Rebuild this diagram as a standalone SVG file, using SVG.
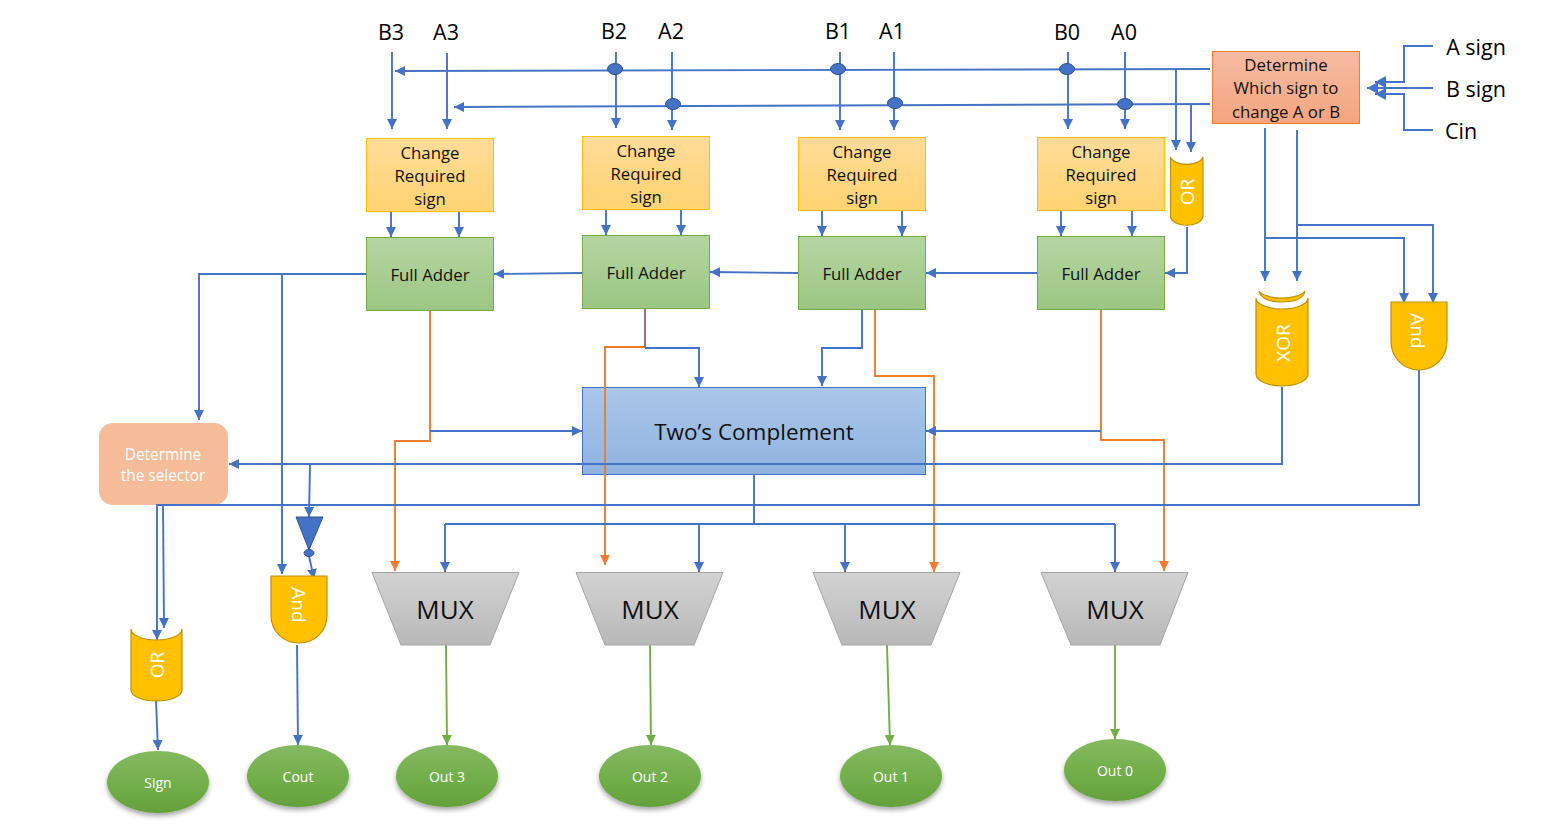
<svg xmlns="http://www.w3.org/2000/svg" width="1542" height="838" viewBox="0 0 1542 838">
<style>
text{font-family:"Open Sans","Noto Sans","Liberation Sans",sans-serif;text-anchor:middle}
.lbl{font-size:21.5px;fill:#000}
.t{font-size:16.8px;fill:#111}
.w{font-size:19px;fill:#fff}
.s{font-size:15.4px;fill:#fff}
.g{font-size:14px;fill:#fff}
.m{font-size:26px;fill:#111}
.c{fill:none;stroke:#4472c4;stroke-width:1.9}
.a{marker-end:url(#ab)}
.al{marker-end:url(#abl)}
.o{fill:none;stroke:#ed7d31;stroke-width:1.9}
.oa{marker-end:url(#ao)}
.gl{fill:none;stroke:#70ad47;stroke-width:1.9;marker-end:url(#ag)}
.chg{fill:url(#gy);stroke:#ffc000;stroke-width:1}
.fa{fill:url(#gg);stroke:#70ad47;stroke-width:1}
.mux{fill:url(#gm);stroke:#a5a5a5;stroke-width:1}
.gate{fill:#ffc000;stroke:#bf9000;stroke-width:1.2}
.ov{fill:url(#go);filter:url(#sh)}
.dot{fill:#4472c4;stroke:#2f528f;stroke-width:1}
</style>
<defs>
<linearGradient id="gy" x1="0" y1="0" x2="0" y2="1"><stop offset="0" stop-color="#ffdc9a"/><stop offset="1" stop-color="#ffd371"/></linearGradient>
<linearGradient id="gg" x1="0" y1="0" x2="0" y2="1"><stop offset="0" stop-color="#b5d5a2"/><stop offset="1" stop-color="#9cc683"/></linearGradient>
<linearGradient id="gm" x1="0" y1="0" x2="0" y2="1"><stop offset="0" stop-color="#d2d2d2"/><stop offset="1" stop-color="#b8b8b8"/></linearGradient>
<linearGradient id="go" x1="0" y1="0" x2="0" y2="1"><stop offset="0" stop-color="#85b961"/><stop offset="0.6" stop-color="#70ad47"/><stop offset="1" stop-color="#64a03c"/></linearGradient>
<linearGradient id="gs" x1="0" y1="0" x2="0" y2="1"><stop offset="0" stop-color="#f6bba3"/><stop offset="1" stop-color="#f4a47f"/></linearGradient>
<linearGradient id="gb" x1="0" y1="0" x2="0" y2="1"><stop offset="0" stop-color="#abc6e8"/><stop offset="1" stop-color="#8fb3e0"/></linearGradient>
<filter id="sh" x="-20%" y="-20%" width="140%" height="150%"><feDropShadow dx="0" dy="3" stdDeviation="2.5" flood-color="#000" flood-opacity="0.35"/></filter>
<marker id="ab" markerUnits="userSpaceOnUse" markerWidth="12" markerHeight="12" refX="10" refY="5" orient="auto"><path d="M0 0L10 5L0 10Z" fill="#4472c4"/></marker>
<marker id="abl" markerUnits="userSpaceOnUse" markerWidth="14" markerHeight="14" refX="11" refY="6" orient="auto"><path d="M0 0L11 6L0 12Z" fill="#4472c4"/></marker>
<marker id="ao" markerUnits="userSpaceOnUse" markerWidth="12" markerHeight="12" refX="10" refY="5" orient="auto"><path d="M0 0L10 5L0 10Z" fill="#ed7d31"/></marker>
<marker id="ag" markerUnits="userSpaceOnUse" markerWidth="12" markerHeight="12" refX="10" refY="5" orient="auto"><path d="M0 0L10 5L0 10Z" fill="#70ad47"/></marker>
</defs>

<g id="labels">
<text class="lbl" x="391" y="40">B3</text><text class="lbl" x="446" y="40">A3</text>
<text class="lbl" x="614" y="39">B2</text><text class="lbl" x="671" y="39">A2</text>
<text class="lbl" x="838" y="39">B1</text><text class="lbl" x="892" y="39">A1</text>
<text class="lbl" x="1067" y="40">B0</text><text class="lbl" x="1124" y="40">A0</text>
<text class="lbl" x="1476" y="55">A sign</text><text class="lbl" x="1476" y="97">B sign</text><text class="lbl" x="1461" y="139">Cin</text>
</g>

<g id="node-two-comp"><rect x="582.5" y="387.5" width="343" height="87" fill="url(#gb)" stroke="#4472c4" stroke-width="1"/><text x="754" y="440" font-size="22.5" fill="#111">Two’s Complement</text></g>
<g id="node-selector"><rect x="99" y="423" width="129" height="82" rx="14" fill="#f4bc98"/><text class="s" x="163" y="460">Determine</text><text class="s" x="163" y="481">the selector</text></g>

<g id="connectors">
<path class="c a" d="M392 52V129"/><path class="c a" d="M447 53V129"/><path class="c a" d="M616 52V128"/><path class="c a" d="M672 52V130"/><path class="c a" d="M840 52V130"/><path class="c a" d="M894 52V130"/><path class="c a" d="M1068 52V129"/><path class="c a" d="M1125 52V129"/>
<path class="c a" d="M1210 69L395 71"/><path class="c a" d="M1210 104L454 107"/>
<path class="c a" d="M1176 69V150"/><path class="c a" d="M1191 104V152"/>
<path class="c al" d="M1433 46H1404V82H1375"/><path class="c al" d="M1433 88H1367"/><path class="c al" d="M1433 130H1404V94H1375"/>
<path class="c a" d="M1265 128V281"/><path class="c a" d="M1297 130V281"/>
<path class="c a" d="M1265 238H1404V303"/><path class="c a" d="M1297 225H1433V303"/>
<path class="c a" d="M391 212V237"/><path class="c a" d="M459 212V237"/><path class="c a" d="M606 210V235"/><path class="c a" d="M681 210V235"/><path class="c a" d="M822 211V236"/><path class="c a" d="M902 211V236"/><path class="c a" d="M1061 211V236"/><path class="c a" d="M1132 211V236"/>
<path class="c a" d="M1187 227V273H1165"/>
<path class="c a" d="M1037 273H926"/><path class="c a" d="M798 273L710 272"/><path class="c a" d="M582 273L494 274"/>
<path class="c a" d="M366 274H199V420"/><path class="c a" d="M282 274V574"/>
<path class="o oa" d="M430 311V441H395V571"/><path class="c a" d="M430 431H582"/>
<path class="c a" d="M645 348H699V387"/><path class="o oa" d="M645 347H605V565"/><path d="M645 309V348" fill="none" stroke="#a5616f" stroke-width="1.9"/>
<path class="c a" d="M862 310V348H822V386"/><path class="o oa" d="M875 310V376H934V572"/>
<path class="o oa" d="M1101 310V440H1164V571"/><path class="c a" d="M1101 431H926"/>
<path class="c a" d="M1282 387V464H229"/><path class="c a" d="M310 464L309 517"/><path class="c a" d="M309 556L314 579"/>
<path class="c a" d="M1419 370V505H157V640"/><path class="c a" d="M163 505L164 628"/>
<path class="c" d="M754 475V524"/><path class="c a" d="M445 524V572"/><path class="c" d="M445 524H1115"/><path class="c a" d="M699 524V572"/><path class="c a" d="M845 524V572"/><path class="c a" d="M1115 524V572"/>
<path class="gl" d="M446 645L447 745"/><path class="gl" d="M650 645L651 745"/><path class="gl" d="M887 645L890 745"/><path class="gl" d="M1115 645V739"/>
<path class="c a" d="M297 645L298 745"/><path class="c a" d="M156 701L158 750"/>
<ellipse class="dot" cx="615" cy="69" rx="7.5" ry="5.5"/><ellipse class="dot" cx="838" cy="69" rx="7.5" ry="5.5"/><ellipse class="dot" cx="1067" cy="69" rx="7.5" ry="5.5"/>
<ellipse class="dot" cx="673" cy="104" rx="7.5" ry="5.5"/><ellipse class="dot" cx="895" cy="103" rx="7.5" ry="5.5"/><ellipse class="dot" cx="1125" cy="104" rx="7.5" ry="5.5"/>
</g>

<g id="node-sign-logic"><rect x="1212.5" y="51.5" width="147" height="72" fill="url(#gs)" stroke="#ed7d31" stroke-width="1"/><text class="t" x="1286" y="71">Determine</text><text class="t" x="1286" y="94">Which sign to</text><text class="t" x="1286" y="118">change A or B</text></g>

<g id="node-crs3"><rect class="chg" x="366.5" y="138.5" width="127" height="73"/><text class="t" x="430" y="159">Change</text><text class="t" x="430" y="182">Required</text><text class="t" x="430" y="205">sign</text></g>
<g id="node-crs2"><rect class="chg" x="582.5" y="136.5" width="127" height="73"/><text class="t" x="646" y="157">Change</text><text class="t" x="646" y="180">Required</text><text class="t" x="646" y="203">sign</text></g>
<g id="node-crs1"><rect class="chg" x="798.5" y="137.5" width="127" height="73"/><text class="t" x="862" y="158">Change</text><text class="t" x="862" y="181">Required</text><text class="t" x="862" y="204">sign</text></g>
<g id="node-crs0"><rect class="chg" x="1037.5" y="137.5" width="127" height="73"/><text class="t" x="1101" y="158">Change</text><text class="t" x="1101" y="181">Required</text><text class="t" x="1101" y="204">sign</text></g>

<g id="node-fa3"><rect class="fa" x="366.5" y="237.5" width="127" height="73"/><text class="t" x="430" y="281">Full Adder</text></g>
<g id="node-fa2"><rect class="fa" x="582.5" y="235.5" width="127" height="73"/><text class="t" x="646" y="279">Full Adder</text></g>
<g id="node-fa1"><rect class="fa" x="798.5" y="236.5" width="127" height="73"/><text class="t" x="862" y="280">Full Adder</text></g>
<g id="node-fa0"><rect class="fa" x="1037.5" y="236.5" width="127" height="73"/><text class="t" x="1101" y="280">Full Adder</text></g>

<g id="node-or-top"><path class="gate" d="M1170.5 157A16.5 9 0 0 0 1203 157V217A16.5 10 0 0 1 1170.5 217Z"/><text class="w" transform="translate(1194 192) rotate(-90)">OR</text></g>
<g id="node-xor"><path class="gate" d="M1259 291A24 10 0 0 0 1305 291Q1303 302 1282 302Q1262 302 1259 291Z"/><path class="gate" d="M1256 298A26 11 0 0 0 1308 298V374A26 12 0 0 1 1256 374Z"/><text class="w" transform="translate(1290 343) rotate(-90)">XOR</text></g>
<g id="node-and-right"><path class="gate" d="M1391 302H1447V341C1447 358 1434 370 1419 370C1404 370 1391 358 1391 341Z"/><text class="w" transform="translate(1411 331) rotate(90)">And</text></g>
<g id="node-and-left"><path class="gate" d="M271 576H327V615C327 632 314 643 299 643C284 643 271 632 271 615Z"/><text class="w" transform="translate(292 605) rotate(90)">And</text></g>
<g id="node-or-left"><path class="gate" d="M131 629A25.5 11 0 0 0 182 629V690A25.5 11 0 0 1 131 690Z"/><text class="w" transform="translate(164 665) rotate(-90)">OR</text></g>
<g id="node-not"><path d="M296 517H323L309 550Z" fill="#4472c4" stroke="#2f528f"/><ellipse class="dot" cx="309" cy="553" rx="5" ry="3.5"/></g>

<g id="node-mux3"><path class="mux" d="M372 572.500H519L490 645H401Z"/><text class="m" x="445" y="619">MUX</text></g>
<g id="node-mux2"><path class="mux" d="M576 572.500H723L694 645H605Z"/><text class="m" x="650" y="619">MUX</text></g>
<g id="node-mux1"><path class="mux" d="M813 572.500H960L931 645H842Z"/><text class="m" x="887" y="619">MUX</text></g>
<g id="node-mux0"><path class="mux" d="M1041 572.500H1188L1160 645H1071Z"/><text class="m" x="1115" y="619">MUX</text></g>

<g id="node-sign"><ellipse class="ov" cx="158" cy="782" rx="51" ry="31"/><text class="g" x="158" y="788">Sign</text></g>
<g id="node-cout"><ellipse class="ov" cx="298" cy="776" rx="51" ry="31"/><text class="g" x="298" y="782">Cout</text></g>
<g id="node-out3"><ellipse class="ov" cx="447" cy="776" rx="51" ry="31"/><text class="g" x="447" y="782">Out 3</text></g>
<g id="node-out2"><ellipse class="ov" cx="650" cy="776" rx="51" ry="31"/><text class="g" x="650" y="782">Out 2</text></g>
<g id="node-out1"><ellipse class="ov" cx="891" cy="776" rx="51" ry="31"/><text class="g" x="891" y="782">Out 1</text></g>
<g id="node-out0"><ellipse class="ov" cx="1115" cy="770" rx="51" ry="31"/><text class="g" x="1115" y="776">Out 0</text></g>
</svg>
